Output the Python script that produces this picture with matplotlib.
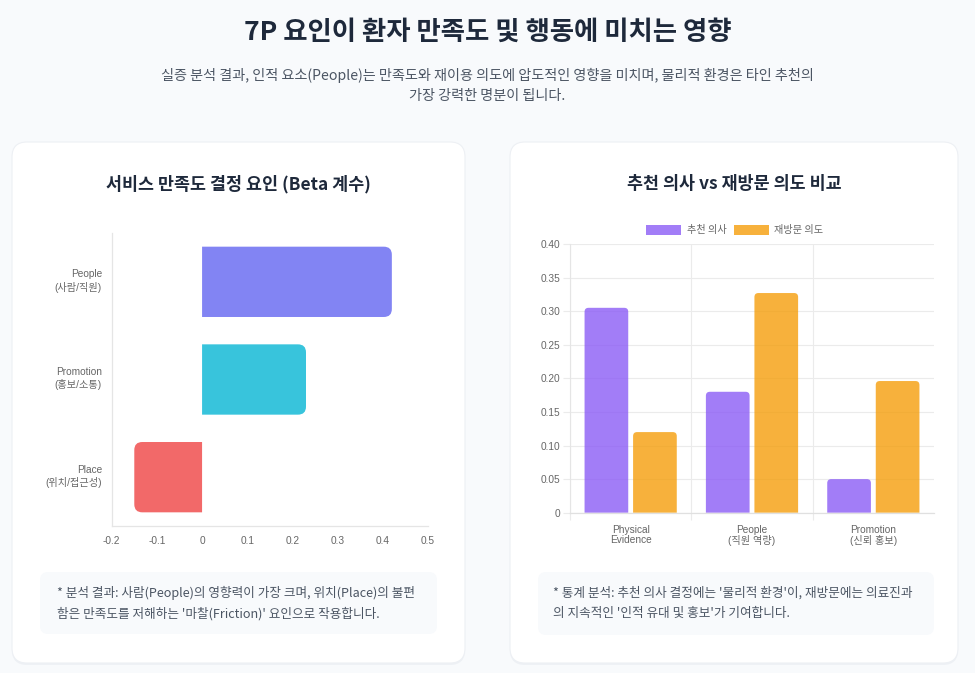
import matplotlib
matplotlib.use('Agg')
import matplotlib.pyplot as plt
from matplotlib.patches import FancyBboxPatch, PathPatch, Patch
from matplotlib.path import Path
from matplotlib.transforms import IdentityTransform, ScaledTranslation
import numpy as np

W, H = 975, 673
plt.rcParams['font.family'] = ['Noto Sans CJK KR', 'DejaVu Sans']
TICKFONT = ['Liberation Sans', 'Noto Sans CJK KR', 'DejaVu Sans']

# ---------------- data ----------------
main_title = '7P 요인이 환자 만족도 및 행동에 미치는 영향'
subtitle_lines = ['실증 분석 결과, 인적 요소(People)는 만족도와 재이용 의도에 압도적인 영향을 미치며, 물리적 환경은 타인 추천의',
                  '가장 강력한 명분이 됩니다.']

beta_title = '서비스 만족도 결정 요인 (Beta 계수)'
beta_labels = ['People\n(사람/직원)', 'Promotion\n(홍보/소통)', 'Place\n(위치/접근성)']
beta_values = [0.42, 0.23, -0.15]
beta_colors = ['#6366f1', '#06b6d4', '#ef4444']
beta_ticks = [-0.2, -0.1, 0, 0.1, 0.2, 0.3, 0.4, 0.5]
beta_ticklabels = ['-0.2', '-0.1', '0', '0.1', '0.2', '0.3', '0.4', '0.5']

cmp_title = '추천 의사 vs 재방문 의도 비교'
cmp_labels = ['Physical\nEvidence', 'People\n(직원 역량)', 'Promotion\n(신뢰 홍보)']
rec_values = [0.305, 0.18, 0.05]
rev_values = [0.12, 0.327, 0.196]
series_names = ['추천 의사', '재방문 의도']
series_colors = ['#8b5cf6', '#f59e0b']
cmp_ticks = [0, 0.05, 0.10, 0.15, 0.20, 0.25, 0.30, 0.35, 0.40]
cmp_ticklabels = ['0', '0.05', '0.10', '0.15', '0.20', '0.25', '0.30', '0.35', '0.40']

note_left = "* 분석 결과: 사람(People)의 영향력이 가장 크며, 위치(Place)의 불편\n함은 만족도를 저해하는 '마찰(Friction)' 요인으로 작용합니다."
note_right = "* 통계 분석: 추천 의사 결정에는 '물리적 환경'이, 재방문에는 의료진과\n의 지속적인 '인적 유대 및 홍보'가 기여합니다."

# ---------------- helpers ----------------
fig = plt.figure(figsize=(W / 100, H / 100), dpi=100)
fig.patch.set_facecolor('#f8fafc')


def frect(x0, y0, x1, y1):
    return [x0 / W, 1 - y1 / H, (x1 - x0) / W, (y1 - y0) / H]


def px_box(x0, y0, x1, y1, r, fc, ec='none', lw=0, z=0):
    p = FancyBboxPatch((x0, H - y1), x1 - x0, y1 - y0,
                       boxstyle=f'round,pad=0,rounding_size={r}',
                       transform=IdentityTransform(), facecolor=fc,
                       edgecolor=ec, linewidth=lw, zorder=z)
    fig.add_artist(p)


def round_end_path(x0, x1, y0, y1, rx, ry, horizontal):
    if horizontal:
        s = np.sign(x1 - x0)
        verts = [(x0, y0), (x1 - s * rx, y0), (x1, y0), (x1, y0 + ry),
                 (x1, y1 - ry), (x1, y1), (x1 - s * rx, y1), (x0, y1), (x0, y0)]
    else:
        s = np.sign(y1 - y0)
        verts = [(x0, y0), (x0, y1 - s * ry), (x0, y1), (x0 + rx, y1),
                 (x1 - rx, y1), (x1, y1), (x1, y1 - s * ry), (x1, y0), (x0, y0)]
    codes = [Path.MOVETO, Path.LINETO, Path.CURVE3, Path.CURVE3, Path.LINETO,
             Path.CURVE3, Path.CURVE3, Path.LINETO, Path.CLOSEPOLY]
    return Path(verts, codes)


# ---------------- background cards ----------------
for (cx0, cx1) in [(12, 465), (510, 958)]:
    px_box(cx0, 144, cx1, 665, 15, '#eef1f5')  # soft shadow
    px_box(cx0, 142, cx1, 663, 15, '#ffffff', ec='#edf0f4', lw=0.8)

px_box(40, 572, 437, 634, 8, '#f8fafc')
px_box(538, 572, 934, 635, 8, '#f8fafc')

# ---------------- titles ----------------
fig.text(487.5 / W, 1 - 32 / H, main_title, ha='center', va='center',
         fontsize=19, fontweight='bold', color='#1e293b')
fig.text(487.5 / W, 1 - 75 / H, subtitle_lines[0], ha='center', va='center',
         fontsize=10.2, color='#4b5563')
fig.text(487.5 / W, 1 - 96 / H, subtitle_lines[1], ha='center', va='center',
         fontsize=10.2, color='#4b5563')
fig.text(238.5 / W, 1 - 184 / H, beta_title, ha='center', va='center',
         fontsize=12.5, fontweight='bold', color='#1e293b')
fig.text(734 / W, 1 - 184 / H, cmp_title, ha='center', va='center',
         fontsize=12.5, fontweight='bold', color='#1e293b')

fig.text(57 / W, 1 - 603 / H, note_left, ha='left', va='center',
         fontsize=9.1, color='#4b5563', style='italic', linespacing=1.65)
fig.text(553 / W, 1 - 603 / H, note_right, ha='left', va='center',
         fontsize=9.1, color='#4b5563', style='italic', linespacing=1.65)

# ---------------- left chart: horizontal bars ----------------
L = (111.7, 233, 428, 526)
ax1 = fig.add_axes(frect(*L))
ax1.set_facecolor('none')
ypos = np.arange(len(beta_values))[::-1]
bars1 = ax1.barh(ypos, beta_values, height=0.72, alpha=0)
ax1.set_xlim(beta_ticks[0], beta_ticks[-1])
ax1.set_ylim(-0.5, len(beta_values) - 0.5)
dx = (beta_ticks[-1] - beta_ticks[0]) / (L[2] - L[0])
dy = len(beta_values) / (L[3] - L[1])
for rect, c in zip(bars1, beta_colors):
    x0 = rect.get_x(); x1 = x0 + rect.get_width()
    y0 = rect.get_y(); y1 = y0 + rect.get_height()
    path = round_end_path(x0, x1, y0, y1, 8 * dx, 8 * dy, True)
    ax1.add_patch(PathPatch(path, facecolor=c, alpha=0.8, edgecolor='none', zorder=2))
ax1.set_xticks(beta_ticks)
ax1.set_xticklabels(beta_ticklabels)
ax1.set_yticks(ypos)
ax1.set_yticklabels(beta_labels, multialignment='right', linespacing=1.25)
ax1.tick_params(axis='x', length=0, pad=7, labelsize=7.3, labelcolor='#666666')
ax1.tick_params(axis='y', length=0, pad=7, labelsize=7.3, labelcolor='#666666')
shift_up = ScaledTranslation(0, 3 / 100, fig.dpi_scale_trans)
for t in ax1.get_yticklabels():
    t.set_transform(t.get_transform() + shift_up)
for t in ax1.get_xticklabels() + ax1.get_yticklabels():
    t.set_family(TICKFONT)
for s in ['top', 'right']:
    ax1.spines[s].set_visible(False)
for s in ['left', 'bottom']:
    ax1.spines[s].set_color('#e5e5e5')
    ax1.spines[s].set_linewidth(0.9)

# ---------------- right chart: grouped vertical bars ----------------
R = (570, 244, 934, 512.7)
ax2 = fig.add_axes(frect(*R))
ax2.set_facecolor('none')
x = np.arange(len(cmp_labels))
bw = 0.36
b_rec = ax2.bar(x - 0.2, rec_values, width=bw, alpha=0)
b_rev = ax2.bar(x + 0.2, rev_values, width=bw, alpha=0)
ax2.set_xlim(-0.5, len(cmp_labels) - 0.5)
ax2.set_ylim(cmp_ticks[0], cmp_ticks[-1])
dx2 = len(cmp_labels) / (R[2] - R[0])
dy2 = (cmp_ticks[-1] - cmp_ticks[0]) / (R[3] - R[1])
for bars, c in [(b_rec, series_colors[0]), (b_rev, series_colors[1])]:
    for rect in bars:
        x0 = rect.get_x(); x1 = x0 + rect.get_width()
        y0 = rect.get_y(); y1 = y0 + rect.get_height()
        path = round_end_path(x0, x1, y0, y1, 4 * dx2, 4 * dy2, False)
        ax2.add_patch(PathPatch(path, facecolor=c, alpha=0.8, edgecolor='none', zorder=2))

ax2.set_yticks(cmp_ticks)
ax2.set_yticklabels(cmp_ticklabels)
ax2.set_xticks(x)
ax2.set_xticklabels(cmp_labels, linespacing=1.1)
ax2.set_xticks(np.arange(len(cmp_labels)) - 0.5, minor=True)
ax2.yaxis.grid(True, color='#ebebeb', linewidth=0.8, zorder=0)
ax2.xaxis.grid(True, which='minor', color='#ebebeb', linewidth=0.8, zorder=0)
ax2.set_axisbelow(True)
ax2.tick_params(axis='y', length=5, width=0.8, color='#ebebeb', pad=2,
                labelsize=7.3, labelcolor='#666666')
ax2.tick_params(axis='x', which='major', length=0, pad=8.5, labelsize=7.3, labelcolor='#666666')
ax2.tick_params(axis='x', which='minor', length=5, width=0.8, color='#ebebeb')
for t in ax2.get_xticklabels() + ax2.get_yticklabels():
    t.set_family(TICKFONT)
for s in ['top', 'right']:
    ax2.spines[s].set_visible(False)
ax2.spines['left'].set_color('#e5e5e5')
ax2.spines['bottom'].set_color('#e0e0e0')
ax2.spines['left'].set_linewidth(0.8)
ax2.spines['bottom'].set_linewidth(0.9)

handles = [Patch(facecolor=c, alpha=0.8, edgecolor='none') for c in series_colors]
leg = fig.legend(handles, series_names, loc='center', bbox_to_anchor=(735 / W, 1 - 230 / H),
                 ncol=2, frameon=False, fontsize=7.3, handlelength=3.4, handleheight=1.1,
                 handletextpad=0.55, columnspacing=0.8, borderaxespad=0, borderpad=0)
for t in leg.get_texts():
    t.set_color('#666666')

fig.savefig('out.png', dpi=100, facecolor=fig.get_facecolor())
